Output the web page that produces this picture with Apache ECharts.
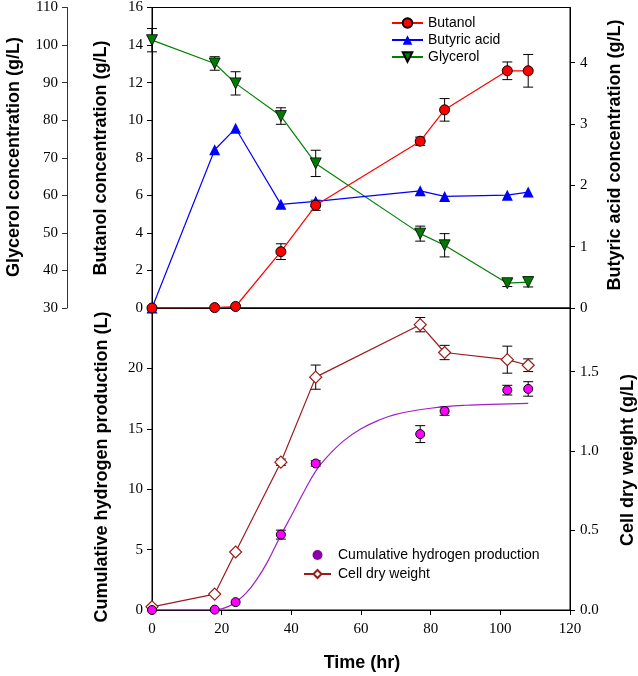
<!DOCTYPE html>
<html>
<head>
<meta charset="utf-8">
<script src="https://cdn.jsdelivr.net/npm/echarts@6/dist/echarts.min.js"></script>
<style>
html,body{margin:0;padding:0;background:#fff;}
#chart{width:638px;height:676px;}
</style>
</head>
<body>
<div id="chart"></div>
<script>
// ---- data ----
const times = [0, 18, 24, 37, 47, 77, 84, 102, 108];
const butanol = [0, 0.02, 0.08, 3.0, 5.47, 8.88, 10.55, 12.63, 12.63];
const butanolErr = [0, 0, 0, 0.42, 0.27, 0.22, 0.6, 0.47, 0.87];
const butyric = [0, 2.58, 2.93, 1.69, 1.74, 1.91, 1.82, 1.84, 1.89];
const glycerol = [101.3, 95.1, 89.8, 81.1, 68.5, 49.8, 46.7, 36.6, 36.9];
const glycerolErr = [3.1, 1.8, 3.1, 2.2, 3.5, 2.0, 3.1, 0.9, 1.3];
const hydrogen = [0, 0.03, 0.65, 6.24, 12.13, 14.56, 16.47, 18.2, 18.3];
const hydrogenErr = [0, 0, 0, 0.37, 0.22, 0.7, 0.35, 0.4, 0.6];
const cellWeight = [0.02, 0.1, 0.365, 0.93, 1.465, 1.795, 1.62, 1.575, 1.54];
const cellErr = [0, 0, 0, 0.02, 0.076, 0.045, 0.045, 0.085, 0.04];
// fitted hydrogen curve
const fitTimes = [0, 10, 15, 18, 20, 22, 24, 27, 30, 33, 37, 40, 44, 47, 50, 55, 60, 65, 70, 80, 90, 100, 108];
const fitValues = [0, 0, 0, 0.02, 0.1, 0.3, 0.65, 1.4, 2.5, 3.9, 6.2, 7.8, 10.0, 11.5, 12.6, 14.0, 15.0, 15.7, 16.2, 16.7, 16.95, 17.05, 17.1];
// tick labels
const timeTicks = [0, 20, 40, 60, 80, 100, 120];
const butanolTicks = [0, 2, 4, 6, 8, 10, 12, 14, 16];
const glycerolTicks = [30, 40, 50, 60, 70, 80, 90, 100, 110];
const butyricTicks = [0, 1, 2, 3, 4];
const hydrogenTicks = [0, 5, 10, 15, 20];
const cellTicks = [0, 0.5, 1.0, 1.5];

const pairs = (xs, ys) => xs.map((x, i) => [x, ys[i]]);
const errs = (xs, ys, es) => xs.map((x, i) => [x, ys[i] - es[i], ys[i] + es[i], es[i]]).filter(d => d[3] > 0);

function errRender(params, api) {
  const x = api.value(0), lo = api.value(1), hi = api.value(2);
  const p1 = api.coord([x, hi]), p2 = api.coord([x, lo]);
  const w = 5;
  const st = { stroke: '#000', lineWidth: 1 };
  return { type: 'group', children: [
    { type: 'line', shape: { x1: p1[0], y1: p1[1], x2: p2[0], y2: p2[1] }, style: st },
    { type: 'line', shape: { x1: p1[0] - w, y1: p1[1], x2: p1[0] + w, y2: p1[1] }, style: st },
    { type: 'line', shape: { x1: p2[0] - w, y1: p2[1], x2: p2[0] + w, y2: p2[1] }, style: st }
  ]};
}

const tickFont = { fontFamily: 'Liberation Serif', fontSize: 15, color: '#000' };
const axLine = { show: true, lineStyle: { color: '#000', width: 1 } };
const axTick = (vals) => ({ show: true, length: 5, lineStyle: { color: '#000' }, customValues: vals });

const chart = echarts.init(document.getElementById('chart'), null, { renderer: 'canvas' });
const option = {
  animation: false,
  backgroundColor: '#fff',
  grid: [
    { left: 152, right: 68, top: 7, height: 301, show: true, borderColor: '#000', borderWidth: 1, backgroundColor: 'transparent' },
    { left: 152, right: 68, top: 308, height: 302, show: true, borderColor: '#000', borderWidth: 1, backgroundColor: 'transparent' }
  ],
  xAxis: [
    { type: 'value', gridIndex: 0, min: 0, max: 120, interval: 20, axisLine: axLine, axisTick: { show: false }, axisLabel: { show: false }, splitLine: { show: false } },
    { type: 'value', gridIndex: 1, min: 0, max: 120, interval: 20, axisLine: axLine, axisTick: axTick(timeTicks), axisLabel: Object.assign({ margin: 12, customValues: timeTicks }, tickFont), splitLine: { show: false } }
  ],
  yAxis: [
    { type: 'value', gridIndex: 0, position: 'left', min: 0, max: 16, interval: 2, axisLine: axLine, axisTick: axTick(butanolTicks), axisLabel: Object.assign({ margin: 9, customValues: butanolTicks }, tickFont), splitLine: { show: false } },
    { type: 'value', gridIndex: 0, position: 'left', offset: 85, min: 30, max: 110, interval: 10, axisLine: { show: true, lineStyle: { color: '#333', width: 1 } }, axisTick: { show: true, length: 5, lineStyle: { color: '#333' }, customValues: glycerolTicks }, axisLabel: Object.assign({ margin: 9, customValues: glycerolTicks }, tickFont), splitLine: { show: false } },
    { type: 'value', gridIndex: 0, position: 'right', min: 0, max: 4.9, interval: 1, axisLine: axLine, axisTick: axTick(butyricTicks), axisLabel: Object.assign({ margin: 10, customValues: butyricTicks }, tickFont), splitLine: { show: false } },
    { type: 'value', gridIndex: 1, position: 'left', min: 0, max: 25, interval: 5, axisLine: axLine, axisTick: axTick(hydrogenTicks), axisLabel: Object.assign({ margin: 9, customValues: hydrogenTicks }, tickFont), splitLine: { show: false } },
    { type: 'value', gridIndex: 1, position: 'right', min: 0, max: 1.9, interval: 0.5, axisLine: axLine, axisTick: axTick(cellTicks), axisLabel: Object.assign({ margin: 10, customValues: cellTicks, formatter: v => v.toFixed(1) }, tickFont), splitLine: { show: false } }
  ],
  legend: [
    { orient: 'vertical', left: 386, top: 11, itemWidth: 31, itemHeight: 12, itemGap: 3,
      textStyle: { fontFamily: 'Arial, Liberation Sans', fontSize: 14, color: '#000' },
      data: ['Butanol', 'Butyric acid', 'Glycerol'] },
    { orient: 'vertical', left: 298, top: 543, itemWidth: 27, itemHeight: 10, itemGap: 5,
      textStyle: { fontFamily: 'Arial, Liberation Sans', fontSize: 14, color: '#000', padding: [0, 0, 0, 2] },
      data: [ { name: 'Cumulative hydrogen production', icon: 'circle', itemStyle: { color: '#8a00a8', borderWidth: 0 } }, 'Cell dry weight' ] }
  ],
  series: [
    { type: 'custom', name: 'butanolErr', xAxisIndex: 0, yAxisIndex: 0, renderItem: errRender, data: errs(times, butanol, butanolErr), z: 3 },
    { type: 'custom', name: 'glycerolErr', xAxisIndex: 0, yAxisIndex: 1, renderItem: errRender, data: errs(times, glycerol, glycerolErr), z: 3 },
    { type: 'line', name: 'Glycerol', xAxisIndex: 0, yAxisIndex: 1, data: pairs(times, glycerol), symbol: 'triangle', symbolRotate: 180, symbolSize: 11,
      lineStyle: { color: '#008000', width: 1.2 }, itemStyle: { color: '#007a00', borderColor: '#000', borderWidth: 0.8 }, z: 4 },
    { type: 'line', name: 'Butyric acid', xAxisIndex: 0, yAxisIndex: 2, data: pairs(times, butyric), symbol: 'triangle', symbolSize: 11,
      lineStyle: { color: '#0000ff', width: 1.2 }, itemStyle: { color: '#0000ff', borderWidth: 0 }, z: 4 },
    { type: 'line', name: 'Butanol', xAxisIndex: 0, yAxisIndex: 0, data: pairs(times, butanol), symbol: 'circle', symbolSize: 10,
      lineStyle: { color: '#ff0000', width: 1.2 }, itemStyle: { color: '#ff0000', borderColor: '#000', borderWidth: 1 }, z: 5 },

    { type: 'custom', name: 'cellErr', xAxisIndex: 1, yAxisIndex: 4, renderItem: errRender, data: errs(times, cellWeight, cellErr), z: 3 },
    { type: 'custom', name: 'hydrogenErr', xAxisIndex: 1, yAxisIndex: 3, renderItem: errRender, data: errs(times, hydrogen, hydrogenErr), z: 3 },
    { type: 'line', name: 'fit', xAxisIndex: 1, yAxisIndex: 3, data: pairs(fitTimes, fitValues), smooth: 0.4, symbol: 'none',
      lineStyle: { color: '#a020c8', width: 1.2 }, z: 4 },
    { type: 'line', name: 'Cell dry weight', xAxisIndex: 1, yAxisIndex: 4, data: pairs(times, cellWeight), symbol: 'diamond', symbolSize: [12, 12],
      lineStyle: { color: '#9c1a1a', width: 1.2 }, itemStyle: { color: '#fff', borderColor: '#9c1a1a', borderWidth: 1.2 }, z: 5 },
    { type: 'scatter', name: 'Cumulative hydrogen production', xAxisIndex: 1, yAxisIndex: 3, data: pairs(times, hydrogen), symbol: 'circle', symbolSize: 9,
      itemStyle: { color: '#ff00ff', borderColor: '#000', borderWidth: 1, opacity: 1 }, z: 6 }
  ],
  graphic: [
    { type: 'text', x: 14, y: 157, rotation: Math.PI / 2, style: { text: 'Glycerol concentration (g/L)', font: 'bold 18px Arial, "Liberation Sans"', fill: '#000', align: 'center', verticalAlign: 'middle' } },
    { type: 'text', x: 101, y: 158, rotation: Math.PI / 2, style: { text: 'Butanol concentration (g/L)', font: 'bold 18px Arial, "Liberation Sans"', fill: '#000', align: 'center', verticalAlign: 'middle' } },
    { type: 'text', x: 615, y: 155, rotation: Math.PI / 2, style: { text: 'Butyric acid concentration (g/L)', font: 'bold 18px Arial, "Liberation Sans"', fill: '#000', align: 'center', verticalAlign: 'middle' } },
    { type: 'text', x: 102, y: 467, rotation: Math.PI / 2, style: { text: 'Cumulative hydrogen production (L)', font: 'bold 18px Arial, "Liberation Sans"', fill: '#000', align: 'center', verticalAlign: 'middle' } },
    { type: 'text', x: 628, y: 460, rotation: Math.PI / 2, style: { text: 'Cell dry weight (g/L)', font: 'bold 18px Arial, "Liberation Sans"', fill: '#000', align: 'center', verticalAlign: 'middle' } },
    { type: 'text', x: 362, y: 663, style: { text: 'Time (hr)', font: 'bold 18px Arial, "Liberation Sans"', fill: '#000', align: 'center', verticalAlign: 'middle' } }
  ]
};
chart.setOption(option);
</script>
</body>
</html>
